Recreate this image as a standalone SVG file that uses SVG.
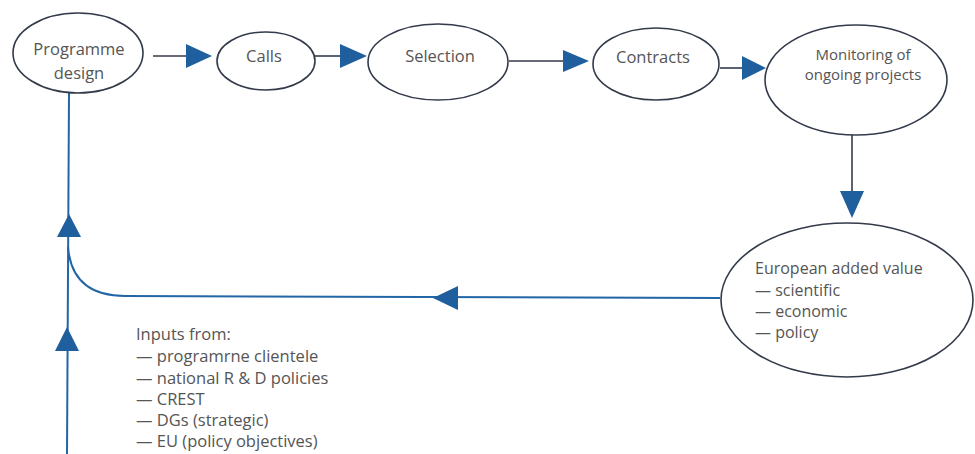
<svg xmlns="http://www.w3.org/2000/svg" width="975" height="454" viewBox="0 0 975 454">
<style>
.node ellipse{fill:#fff;stroke:#333a4a;stroke-width:1.6}
text{font-family:"Open Sans","Noto Sans",sans-serif;font-size:16.5px;fill:#555}
.c{text-anchor:middle}
.sm{font-size:15px}
.md{font-size:16px}
.ln{fill:none;stroke:#333a4a;stroke-width:1.6}
.bl{fill:none;stroke:#2366a6;stroke-width:2}
.ah{fill:#1f5f9e}
</style>
<rect width="975" height="454" fill="#fff"/>
<g id="connectors">
<line class="ln" x1="153" y1="56" x2="190" y2="56"/>
<polygon class="ah" points="186,44 212,56 186,68"/>
<line class="ln" x1="315" y1="56" x2="345" y2="56"/>
<polygon class="ah" points="340,44 367,56 340,68"/>
<line class="ln" x1="509" y1="61" x2="568" y2="61"/>
<polygon class="ah" points="563,50 589,61 563,72"/>
<line class="ln" x1="720" y1="68" x2="746" y2="68"/>
<polygon class="ah" points="742,56 766,68 742,80"/>
<line class="ln" x1="852" y1="135" x2="852" y2="195"/>
<polygon class="ah" points="840,191 864,191 852,218"/>
<path class="bl" d="M720,298 L125,296 Q72,296 68,247"/>
<polygon class="ah" points="458,286 433,298 458,310"/>
<line class="bl" x1="69" y1="93" x2="67" y2="454"/>
<polygon class="ah" points="57,237 81,237 69,214"/>
<polygon class="ah" points="55,351 79,351 67,327"/>
</g>
<g id="programme-design" class="node">
<ellipse cx="78" cy="53" rx="65" ry="40"/>
<text class="c" x="79" y="55">Programme</text>
<text class="c" x="79" y="79">design</text>
</g>
<g id="calls" class="node">
<ellipse cx="266" cy="61" rx="49" ry="29"/>
<text class="c" x="264" y="62">Calls</text>
</g>
<g id="selection" class="node">
<ellipse cx="438" cy="62" rx="70" ry="38"/>
<text class="c" x="440" y="62">Selection</text>
</g>
<g id="contracts" class="node">
<ellipse cx="656" cy="64" rx="63" ry="36"/>
<text class="c" x="653" y="63">Contracts</text>
</g>
<g id="monitoring" class="node">
<ellipse cx="856" cy="80" rx="91" ry="55"/>
<text class="c sm" x="863" y="60">Monitoring of</text>
<text class="c sm" x="863" y="80">ongoing projects</text>
</g>
<g id="european-added-value" class="node">
<ellipse cx="847" cy="300" rx="126" ry="77"/>
<text class="md" x="755" y="274">European added value</text>
<text class="md" x="755" y="296">— scientific</text>
<text class="md" x="755" y="317">— economic</text>
<text class="md" x="755" y="338">— policy</text>
</g>
<g id="inputs">
<text x="136" y="340">Inputs from:</text>
<text x="136" y="362">— programrne clientele</text>
<text x="136" y="384">— national R &amp; D policies</text>
<text x="136" y="405">— CREST</text>
<text x="136" y="426">— DGs (strategic)</text>
<text x="136" y="447">— EU (policy objectives)</text>
</g>
</svg>
